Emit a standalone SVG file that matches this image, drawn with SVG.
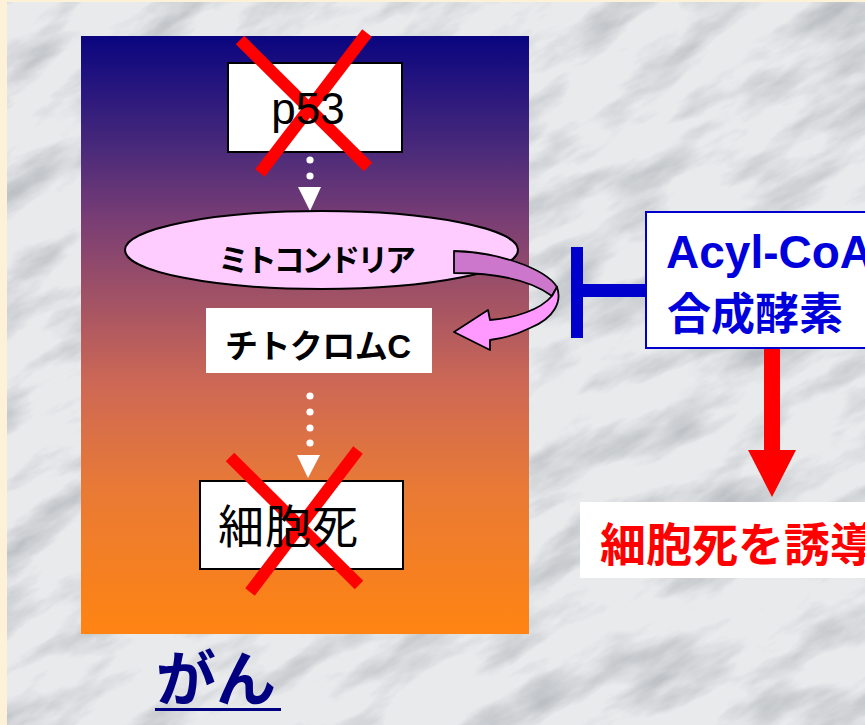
<svg xmlns="http://www.w3.org/2000/svg" width="865" height="725" viewBox="0 0 865 725">
<defs>
<linearGradient id="bg" x1="0" y1="0" x2="0" y2="1">
<stop offset="0" stop-color="#0a0580"/>
<stop offset="0.19" stop-color="#4a2a7a"/>
<stop offset="0.31" stop-color="#7a3e74"/>
<stop offset="0.58" stop-color="#cd6855"/>
<stop offset="0.76" stop-color="#e97a35"/>
<stop offset="1" stop-color="#ff8412"/>
</linearGradient>
<filter id="marble" x="0" y="0" width="100%" height="100%">
<feTurbulence type="fractalNoise" baseFrequency="0.009 0.026" numOctaves="5" seed="11" result="n"/>
<feColorMatrix in="n" type="matrix" values="0 0 0 0 0.42  0 0 0 0 0.44  0 0 0 0 0.47  -1.9 0 0 0 1.05"/>
</filter>
<clipPath id="bgclip"><rect x="7" y="2" width="858" height="723"/></clipPath>
</defs>
<style>
.jp{font-family:"Noto Sans CJK JP","Noto Sans CJK SC",sans-serif}
.lat{font-family:"Liberation Sans","Noto Sans CJK JP",sans-serif}
.box{fill:#fff;stroke:#000;stroke-width:2}
.cross{stroke:#ff0000;stroke-width:12;stroke-linecap:butt}
.dot{fill:#fff}
</style>
<rect width="865" height="725" fill="#fdf1d8"/>
<rect x="7" y="2" width="858" height="723" fill="#e8eaec"/>
<g clip-path="url(#bgclip)">
<rect x="-300" y="-300" width="1500" height="1400" filter="url(#marble)" transform="rotate(-28 432 362)"/>
</g>
<rect id="panel" x="81" y="36" width="448" height="598" fill="url(#bg)"/>

<g id="connectors">
<circle class="dot" cx="310" cy="160" r="3.6"/>
<circle class="dot" cx="310" cy="176" r="3.6"/>
<polygon fill="#fff" points="298,187 321,187 310,211"/>
<circle class="dot" cx="310" cy="396" r="3.6"/>
<circle class="dot" cx="310" cy="412" r="3.6"/>
<circle class="dot" cx="310" cy="428" r="3.6"/>
<circle class="dot" cx="310" cy="443" r="3.6"/>
<polygon fill="#fff" points="297,455 320,455 308,478"/>
<path fill="#0000cc" d="M571,247 H583 V284 H646 V297 H583 V338 H571 Z"/>
<path fill="#ff0000" d="M764,348 H780 V450 H796 L772,497 L748,450 H764 Z"/>
</g>

<g id="p53">
<rect class="box" x="228" y="63" width="174" height="89"/>
<line class="cross" x1="240" y1="40" x2="368" y2="167"/>
<line class="cross" x1="367" y1="33" x2="260" y2="173"/>
<text class="lat" x="308" y="124" font-size="44" text-anchor="middle">p53</text>
</g>

<g id="mitochondria">
<ellipse cx="321.5" cy="250" rx="196.5" ry="39" fill="#ffccff" stroke="#000" stroke-width="2"/>
<text class="jp" x="317" y="271" font-size="31" font-weight="bold" text-anchor="middle" textLength="198" lengthAdjust="spacing">ミトコンドリア</text>
</g>

<g id="release-arrow" stroke="#000" stroke-width="1.8" stroke-linejoin="round">
<path fill="#cc77cc" d="M454,251 C497,252 545,268 557,287 L552,296 C532,281 497,273 454,273 Z"/>
<path fill="#ff99ff" d="M557,287 C562,301 555,318 530,328 C518,334 505,338 490,340 L490,350 L454,332 L488,310 L490,320 C515,318 540,310 552,296 Z"/>
</g>

<g id="cytochrome">
<rect x="206" y="308" width="226" height="65" fill="#fff"/>
<text class="lat" x="225" y="358" font-size="33" font-weight="bold" textLength="186" lengthAdjust="spacing">チトクロムC</text>
</g>

<g id="celldeath">
<rect class="box" x="200" y="481" width="203" height="88"/>
<line class="cross" x1="230" y1="457" x2="359" y2="585"/>
<line class="cross" x1="358" y1="450" x2="250" y2="592"/>
<text class="jp" x="218" y="543" font-size="46" letter-spacing="1">細胞死</text>
</g>

<g id="cancer">
<text class="jp" x="156" y="701" font-size="60" font-weight="bold" fill="#000080">がん</text>
<rect x="155" y="708" width="126" height="3" fill="#000080"/>
</g>

<g id="acylcoa">
<rect x="646" y="212" width="240" height="136" fill="#fff" stroke="#0000cc" stroke-width="2"/>
<text class="lat" x="666" y="268" font-size="46" font-weight="bold" fill="#0000dd">Acyl-CoA</text>
<text class="jp" x="667" y="330" font-size="44" font-weight="bold" fill="#0000dd">合成酵素</text>
</g>

<g id="induce">
<rect x="580" y="502" width="300" height="76" fill="#fff"/>
<text class="jp" x="600" y="561" font-size="46" font-weight="bold" fill="#ff0000">細胞死を誘導</text>
</g>
</svg>
